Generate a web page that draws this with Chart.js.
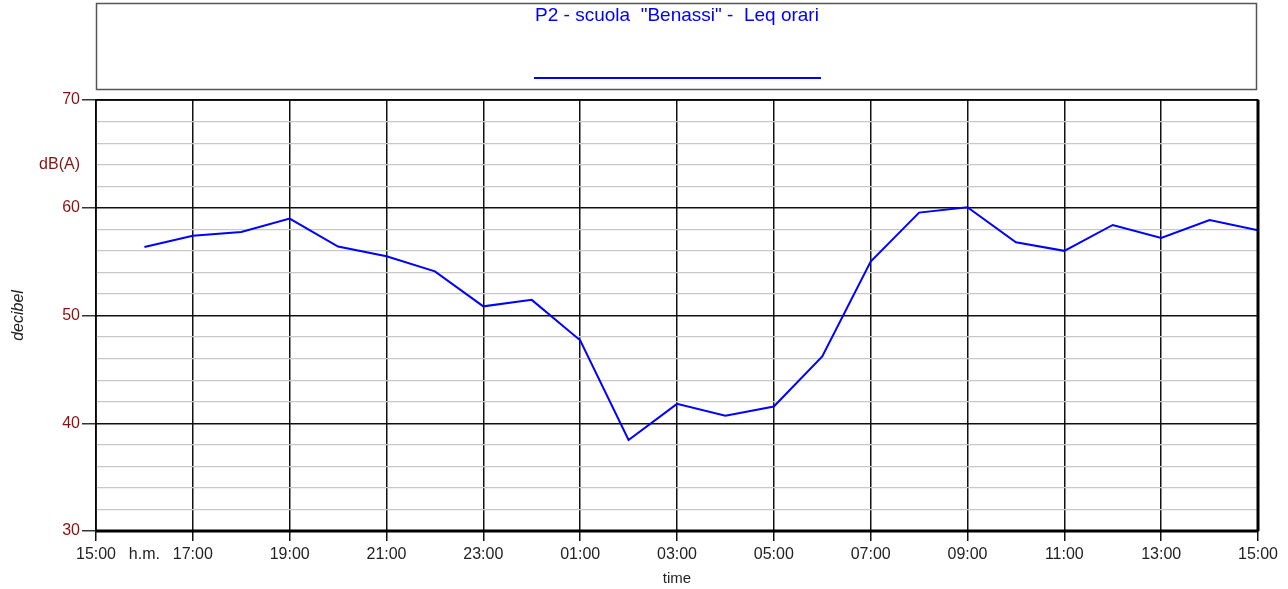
<!DOCTYPE html>
<html><head><meta charset="utf-8">
<script src="https://cdn.jsdelivr.net/npm/chart.js@4/dist/chart.umd.min.js"></script>
<style>html,body{margin:0;padding:0;background:#fff}#wrap{width:1288px;height:589px;position:relative}</style>
</head><body><div id="wrap"><canvas id="c" width="1288" height="589"></canvas></div>
<script>
const seriesLabel = 'P2 - scuola  "Benassi" -  Leq orari';
// hours after 15:00
const hours = [1,2,3,4,5,6,7,8,9,10,11,12,13,14,15,16,17,18,19,20,21,22,23,24];
const leq = [56.35,57.4,57.75,59.0,56.4,55.5,54.1,50.85,51.45,47.7,38.45,41.8,40.7,41.55,46.2,55.0,59.55,60.05,56.8,56.0,58.4,57.2,58.85,57.9];
const xTickLabels = ['15:00','h.m.','17:00','','19:00','','21:00','','23:00','','01:00','','03:00','','05:00','','07:00','','09:00','','11:00','','13:00','','15:00'];
const yUnitLabel = 'dB(A)';
const yAxisTitle = 'decibel';
const xAxisTitle = 'time';

const FONT = 'Liberation Sans, Arial, sans-serif';
const RED = '#8b1010';

const legendBox = {
  id: 'legendBox',
  afterDraw(chart) {
    const ctx = chart.ctx;
    ctx.save();
    ctx.strokeStyle = '#555';
    ctx.lineWidth = 1.5;
    ctx.strokeRect(96.5, 3.5, 1160, 86);
    ctx.fillStyle = '#0000ff';
    ctx.font = '19px ' + FONT;
    ctx.textAlign = 'center';
    ctx.textBaseline = 'middle';
    ctx.fillText(chart.data.datasets[0].label, 677, 16);
    ctx.strokeStyle = '#0000ff';
    ctx.lineWidth = 2;
    ctx.beginPath(); ctx.moveTo(534, 78); ctx.lineTo(821, 78); ctx.stroke();
    // plot frame
    const a = chart.chartArea;
    ctx.strokeStyle = '#000';
    ctx.lineWidth = 1.5;
    ctx.strokeRect(a.left, a.top, a.right - a.left, a.bottom - a.top);
    ctx.lineWidth = 3;
    ctx.beginPath(); ctx.moveTo(a.right, a.top); ctx.lineTo(a.right, a.bottom); ctx.stroke();
    ctx.beginPath(); ctx.moveTo(a.left, a.bottom); ctx.lineTo(a.right, a.bottom); ctx.stroke();
    ctx.restore();
  }
};

new Chart(document.getElementById('c'), {
  type: 'line',
  data: {
    datasets: [{
      label: seriesLabel,
      data: hours.map((h, i) => ({x: h, y: leq[i]})),
      borderColor: '#0000ff',
      borderWidth: 2,
      pointRadius: 0,
      tension: 0,
      fill: false
    }]
  },
  options: {
    responsive: false,
    animation: false,
    layout: {padding: {top: 100, right: 30, left: 0, bottom: 0}},
    plugins: {legend: {display: false}, tooltip: {enabled: false}},
    scales: {
      x: {
        type: 'linear', min: 0, max: 24,
        afterFit(s) { s.height = 58; },
        ticks: {
          stepSize: 1, autoSkip: false, maxRotation: 0,
          color: '#222', font: {family: FONT, size: 16}, padding: 4,
          callback: (v) => xTickLabels[v]
        },
        grid: {
          color: (c) => (c.tick && c.tick.value % 2 === 0) ? '#111' : 'rgba(0,0,0,0)',
          tickColor: (c) => (c.tick && c.tick.value % 2 === 0) ? '#111' : 'rgba(0,0,0,0)',
          lineWidth: 1.5, tickLength: 10, drawTicks: true
        },
        border: {display: false},
        title: {display: true, text: xAxisTitle, color: '#222', font: {family: FONT, size: 15}, padding: {top: 0, bottom: 1}}
      },
      y: {
        min: 30, max: 70,
        afterFit(s) { s.width = 96; },
        ticks: {
          stepSize: 2, autoSkip: false,
          color: RED, font: {family: FONT, size: 16}, padding: 2,
          callback: (v) => v % 10 === 0 ? String(v) : (v === 64 ? yUnitLabel : '')
        },
        grid: {
          color: (c) => (c.tick && c.tick.value % 10 === 0) ? '#111' : '#c8c8c8',
          tickColor: (c) => (c.tick && c.tick.value % 10 === 0) ? '#333' : 'rgba(0,0,0,0)',
          lineWidth: (c) => (c.tick && c.tick.value % 10 === 0) ? 1.5 : 1.2,
          tickLength: 14
        },
        border: {display: false},
        title: {display: true, text: yAxisTitle, color: '#222', font: {family: FONT, size: 16, style: 'italic'}, padding: {top: 9, bottom: 0}}
      }
    }
  },
  plugins: [legendBox]
});
</script></body></html>
